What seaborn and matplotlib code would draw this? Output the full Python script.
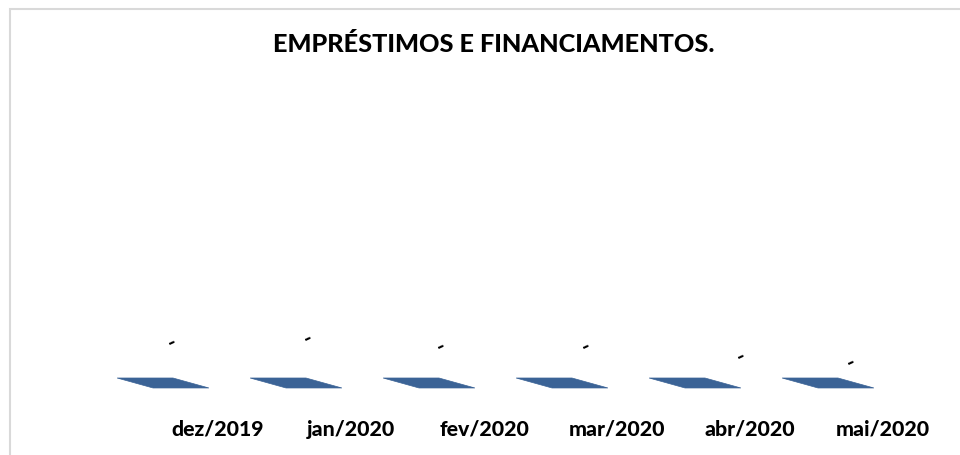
import matplotlib
matplotlib.use("Agg")
import matplotlib.pyplot as plt
import seaborn as sns
import pandas as pd
from matplotlib.patches import Polygon, Rectangle

# data: every month is zero (Excel shows "-")
months = ['dez/2019', 'jan/2020', 'fev/2020', 'mar/2020', 'abr/2020', 'mai/2020']
values = [0, 0, 0, 0, 0, 0]
title = 'EMPRÉSTIMOS E FINANCIAMENTOS.'

# where Excel's 3D view drops each data label (pixels from the bar face)
label_dx = [9, 12, 12, 24, 46, 23]
label_dy = [42, 46, 38, 38, 28, 22]

df = pd.DataFrame({'mes': months, 'valor': values})

sns.set_theme(style='white')
plt.rcParams['font.family'] = ['Lato', 'DejaVu Sans']

fig = plt.figure(figsize=(9.6, 4.56), dpi=100)
ax = fig.add_axes([0, 56 / 456, 1, 400 / 456])

bar_color = '#3B6396'
sns.barplot(data=df, x='mes', y='valor', color=bar_color, width=0.42, ax=ax)

ax.set_xlim(-1.2256, 5.9925)
ax.set_ylim(-0.0417, 1)

# 3D look: a zero-height column shows only its flat top face
hw, dx, dy = 0.21, 0.135, 0.013
for i, (m, v) in enumerate(zip(months, values)):
    xc = i
    face = Polygon([(xc - dx - hw, v + dy), (xc - dx + hw, v + dy),
                    (xc + dx + hw, v - dy), (xc + dx - hw, v - dy)],
                   closed=True, facecolor=bar_color, edgecolor=bar_color, lw=0.5)
    ax.add_patch(face)
    txt = '-' if v == 0 else f'{v:,.0f}'
    ax.annotate(txt, xy=(xc, v), xytext=(label_dx[i], label_dy[i]),
                textcoords='offset pixels', ha='center', va='center',
                rotation=25, fontsize=15, fontweight=900, color='black')
    # category label sits on the 3D floor's front edge, shifted right
    ax.annotate(m, xy=(xc + 0.414, 0), xycoords=ax.get_xaxis_transform(),
                xytext=(0, -36), textcoords='offset pixels',
                ha='center', va='baseline', fontsize=15.3, fontweight=900,
                color='black', annotation_clip=False)

ax.set_xticks([])
ax.set_yticks([])
ax.set_xlabel('')
ax.set_ylabel('')
for s in ax.spines.values():
    s.set_visible(False)
ax.patch.set_alpha(0)

fig.text(494 / 960, 1 - 45 / 456, title, ha='center', va='center',
         fontsize=18.2, fontweight=900, color='black')

fig.patches.append(Rectangle((10 / 960, -0.1), 1.1, 1.1 - 10 / 456,
                             transform=fig.transFigure, fill=False,
                             edgecolor='#D9D9D9', lw=1.5))

fig.savefig('out.png', dpi=100)
